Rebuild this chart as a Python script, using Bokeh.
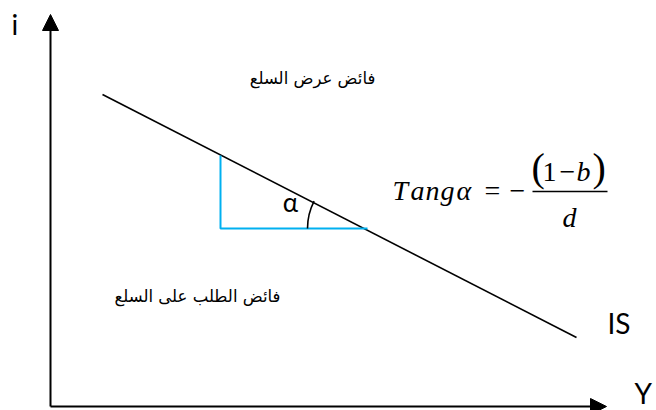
from bokeh.plotting import figure
from bokeh.models import Range1d, Arrow, NormalHead
from bokeh.core.properties import value
from bokeh.embed import file_html
from bokeh.resources import INLINE
import math

# ---- diagram data (reference pixel coordinates, y measured downward) ----
H = 410
W = 656
is_x = [102, 576]
is_y = [94, 337]
tri_x = [220, 220, 367]
tri_y = [155, 228, 228]
arc_radius = 60
axis_x0, axis_y0 = 50, 406
axis_top = 14
axis_right = 606

labels_sans = ["i", "IS", "Y"]
labels_sans_x = [11, 607, 634]
labels_sans_y = [23, 322, 392]

alpha_label = "α"
ar_labels = ["فائض عرض السلع", "فائض الطلب على السلع"]
ar_x = [312, 197]
ar_y = [78, 296]

tang_letters = ["T", "a", "n", "g", "α"]
tang_x = [392, 410, 425, 440, 456]


def up(v):
    return [H - t for t in v]


p = figure(width=W, height=H, x_range=Range1d(0, W), y_range=Range1d(0, H),
           output_backend="svg", toolbar_location=None, min_border=0,
           x_axis_type=None, y_axis_type=None)
p.grid.visible = False
p.outline_line_color = None

# axes with arrow heads
p.add_layout(Arrow(x_start=axis_x0, y_start=H - axis_y0, x_end=axis_x0, y_end=H - axis_top,
                   line_width=2, line_color="black",
                   end=NormalHead(size=16, fill_color="black", line_color="black")))
p.add_layout(Arrow(x_start=axis_x0, y_start=H - axis_y0, x_end=axis_right, y_end=H - axis_y0,
                   line_width=2, line_color="black",
                   end=NormalHead(size=16, fill_color="black", line_color="black")))

# IS line
p.line(is_x, up(is_y), line_color="black", line_width=1.6)

# blue triangle legs
p.line(tri_x, up(tri_y), line_color="#00B0F0", line_width=2)

# angle arc at the intersection
slope = (is_y[1] - is_y[0]) / (is_x[1] - is_x[0])
a0 = math.pi - math.atan(slope)
p.arc(x=[tri_x[2]], y=[H - tri_y[2]], radius=arc_radius, start_angle=a0, end_angle=math.pi,
      direction="anticlock", line_color="black", line_width=1.6)

# sans labels
p.text(x=labels_sans_x, y=up(labels_sans_y), text=labels_sans, text_font=value("Lato"),
       text_font_size="28px", text_align="left", text_baseline="alphabetic", text_color="black")
p.text(x=[290], y=[H - 201], text=[alpha_label], text_font=value("Lato"),
       text_font_size="26px", text_align="center", text_baseline="middle", text_color="black")

# Arabic labels
p.text(x=ar_x, y=up(ar_y), text=ar_labels, text_font=value("DejaVu Sans"),
       text_font_size="16.5px", text_align="center", text_baseline="middle", text_color="black")

# formula
serif = value("Liberation Serif")
p.text(x=tang_x, y=[H - 190] * len(tang_x), text=tang_letters, text_font=serif,
       text_font_style="italic", text_font_size="28px", text_align="left",
       text_baseline="alphabetic")
p.text(x=[492, 517], y=[H - 190, H - 190], text=["=", "−"], text_font=serif,
       text_font_size="28px", text_align="center", text_baseline="alphabetic")
p.segment(x0=[532], y0=[H - 191], x1=[607], y1=[H - 191], line_color="black", line_width=1.3)
p.text(x=[531, 592], y=[H - 167, H - 167], text=["(", ")"], text_font=serif,
       text_font_size="40px", text_align="left", text_baseline="alphabetic")
p.text(x=[542, 559], y=[H - 171, H - 171], text=["1", "−"], text_font=serif,
       text_font_size="28px", text_align="left", text_baseline="alphabetic")
p.text(x=[576], y=[H - 171], text=["b"], text_font=serif, text_font_style="italic",
       text_font_size="28px", text_align="left", text_baseline="alphabetic")
p.text(x=[569], y=[H - 217], text=["d"], text_font=serif, text_font_style="italic",
       text_font_size="28px", text_align="center", text_baseline="alphabetic")

open("out.html", "w").write(file_html(p, INLINE))
